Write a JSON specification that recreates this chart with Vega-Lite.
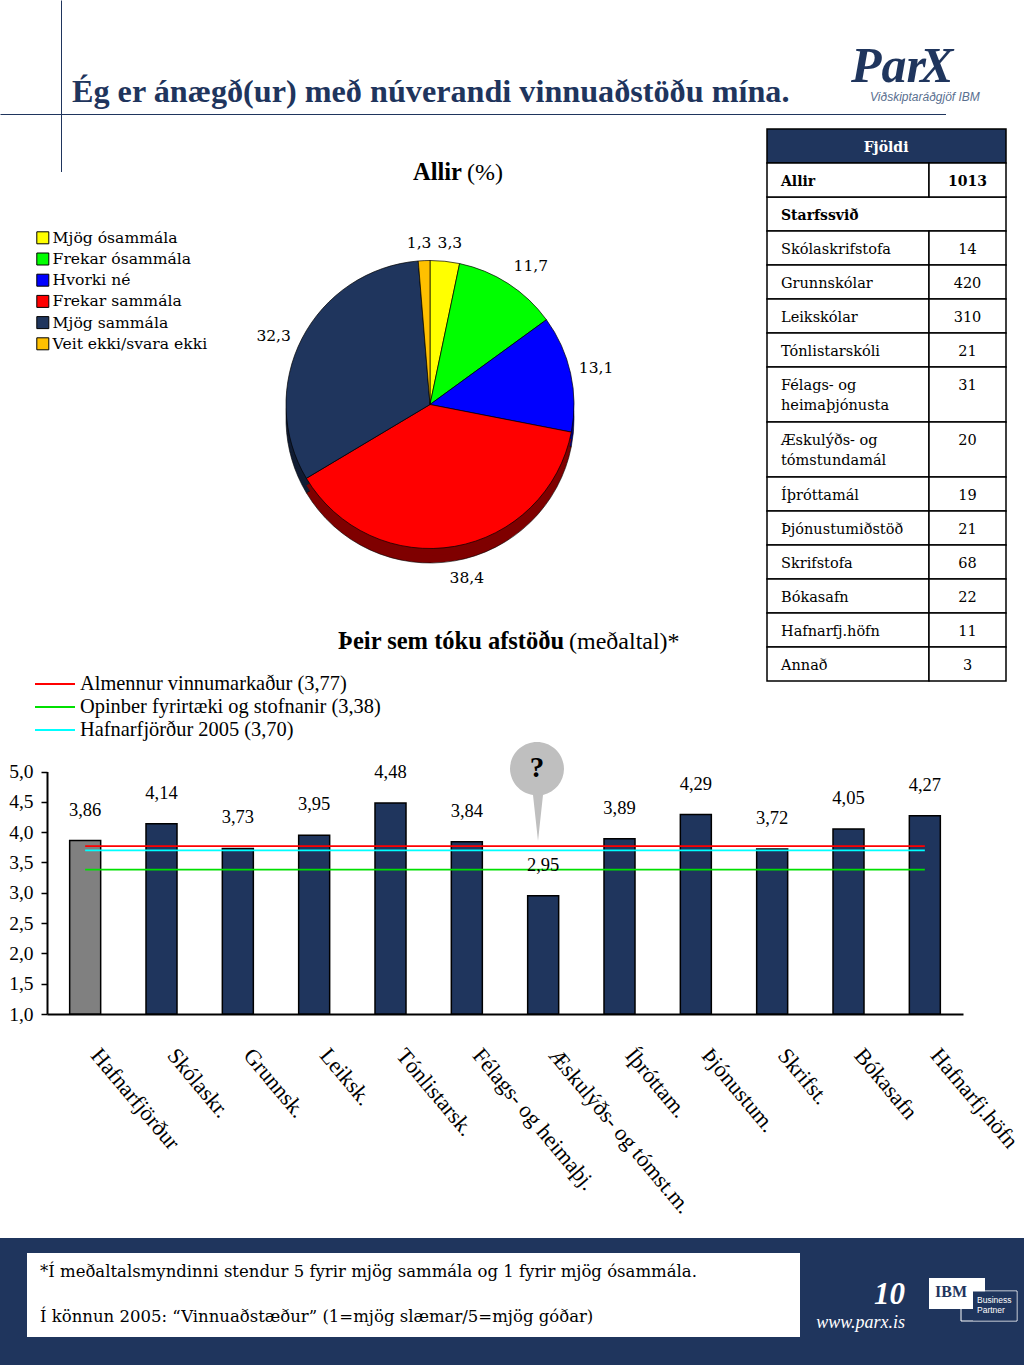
{
"$schema":"https://vega.github.io/schema/vega-lite/v6.json",
"width":1024,"height":1365,"padding":0,
"autosize":{"type":"fit","contains":"padding"},
"background":"#ffffff",
"config":{"view":{"stroke":null}},
"data":{"values":[{"part":"decor"}]},
"datasets":{
"pie":[
{"category":"Mjög ósammála","rank":1,"value":3.3,"label":"3,3"},
{"category":"Frekar ósammála","rank":2,"value":11.7,"label":"11,7"},
{"category":"Hvorki né","rank":3,"value":13.1,"label":"13,1"},
{"category":"Frekar sammála","rank":4,"value":38.4,"label":"38,4"},
{"category":"Mjög sammála","rank":5,"value":32.3,"label":"32,3"},
{"category":"Veit ekki/svara ekki","rank":6,"value":1.3,"label":"1,3"}],
"bars":[
{"category":"Hafnarfjörður","value":3.86,"label":"3,86"},
{"category":"Skólaskr.","value":4.14,"label":"4,14"},
{"category":"Grunnsk.","value":3.73,"label":"3,73"},
{"category":"Leiksk.","value":3.95,"label":"3,95"},
{"category":"Tónlistarsk.","value":4.48,"label":"4,48"},
{"category":"Félags- og heimaþj.","value":3.84,"label":"3,84"},
{"category":"Æskulýðs- og tómst.m.","value":2.95,"label":"2,95"},
{"category":"Íþróttam.","value":3.89,"label":"3,89"},
{"category":"Þjónustum.","value":4.29,"label":"4,29"},
{"category":"Skrifst.","value":3.72,"label":"3,72"},
{"category":"Bókasafn","value":4.05,"label":"4,05"},
{"category":"Hafnarfj.höfn","value":4.27,"label":"4,27"}],
"refs":[
{"series":"Almennur vinnumarkaður (3,77)","category":"Hafnarfjörður","value":3.77},
{"series":"Almennur vinnumarkaður (3,77)","category":"Hafnarfj.höfn","value":3.77},
{"series":"Opinber fyrirtæki og stofnanir (3,38)","category":"Hafnarfjörður","value":3.38},
{"series":"Opinber fyrirtæki og stofnanir (3,38)","category":"Hafnarfj.höfn","value":3.38},
{"series":"Hafnarfjörður 2005 (3,70)","category":"Hafnarfjörður","value":3.70},
{"series":"Hafnarfjörður 2005 (3,70)","category":"Hafnarfj.höfn","value":3.70}],
"refKeys":[
{"series":"Almennur vinnumarkaður (3,77)","entry":0},
{"series":"Opinber fyrirtæki og stofnanir (3,38)","entry":1},
{"series":"Hafnarfjörður 2005 (3,70)","entry":2}],
"table":[
{"row":0,"rowEnd":1,"name":"Fjöldi"},
{"row":1,"rowEnd":2,"name":"Allir","n":1013},
{"row":2,"rowEnd":3,"name":"Starfssvið"},
{"row":3,"rowEnd":4,"name":"Skólaskrifstofa","n":14},
{"row":4,"rowEnd":5,"name":"Grunnskólar","n":420},
{"row":5,"rowEnd":6,"name":"Leikskólar","n":310},
{"row":6,"rowEnd":7,"name":"Tónlistarskóli","n":21},
{"row":7,"rowEnd":8,"name":"Félags- og\nheimaþjónusta","n":31},
{"row":8,"rowEnd":9,"name":"Æskulýðs- og\ntómstundamál","n":20},
{"row":9,"rowEnd":10,"name":"Íþróttamál","n":19},
{"row":10,"rowEnd":11,"name":"Þjónustumiðstöð","n":21},
{"row":11,"rowEnd":12,"name":"Skrifstofa","n":68},
{"row":12,"rowEnd":13,"name":"Bókasafn","n":22},
{"row":13,"rowEnd":14,"name":"Hafnarfj.höfn","n":11},
{"row":14,"rowEnd":15,"name":"Annað","n":3}]
},
"resolve":{"scale":{"x":"independent","y":"independent","color":"independent","stroke":"independent","theta":"independent"}},
"layer":[
{"mark":{"type":"rule","stroke":"#1F355D","strokeWidth":1},"encoding":{
 "x":{"datum":0,"type":"quantitative","scale":{"domain":[0,1],"range":[0.5,946]},"axis":null},"x2":{"datum":1},
 "y":{"datum":0,"type":"quantitative","scale":{"domain":[0,1],"range":[114.5,115.5]},"axis":null}}},
{"mark":{"type":"rule","stroke":"#1F355D","strokeWidth":1},"encoding":{
 "x":{"datum":0,"type":"quantitative","scale":{"domain":[0,1],"range":[61.5,62.5]},"axis":null},
 "y":{"datum":0,"type":"quantitative","scale":{"domain":[0,1],"range":[0.5,172]},"axis":null},"y2":{"datum":1}}},
{"mark":{"type":"rect","fill":"#1F355D"},"encoding":{
 "x":{"datum":0,"type":"quantitative","scale":{"domain":[0,1],"range":[0,1024]},"axis":null},"x2":{"datum":1},
 "y":{"datum":0,"type":"quantitative","scale":{"domain":[0,1],"range":[1238,1365]},"axis":null},"y2":{"datum":1}}},
{"mark":{"type":"rect","fill":"#ffffff"},"encoding":{
 "x":{"datum":0,"type":"quantitative","scale":{"domain":[0,1],"range":[27,800]},"axis":null},"x2":{"datum":1},
 "y":{"datum":0,"type":"quantitative","scale":{"domain":[0,1],"range":[1253,1337]},"axis":null},"y2":{"datum":1}}},
{"mark":{"type":"rect","fill":"#1F355D","stroke":"#ffffff","strokeWidth":1},"encoding":{
 "x":{"datum":0,"type":"quantitative","scale":{"domain":[0,1],"range":[961,1017]},"axis":null},"x2":{"datum":1},
 "y":{"datum":0,"type":"quantitative","scale":{"domain":[0,1],"range":[1291,1321]},"axis":null},"y2":{"datum":1}}},
{"mark":{"type":"rect","fill":"#ffffff"},"encoding":{
 "x":{"datum":0,"type":"quantitative","scale":{"domain":[0,1],"range":[929,985]},"axis":null},"x2":{"datum":1},
 "y":{"datum":0,"type":"quantitative","scale":{"domain":[0,1],"range":[1278,1309]},"axis":null},"y2":{"datum":1}}},
{"mark":{"type":"rect","fill":"#1F355D"},"encoding":{
 "x":{"datum":0,"type":"quantitative","scale":{"domain":[0,1],"range":[973,1016.5]},"axis":null},"x2":{"datum":1},
 "y":{"datum":0,"type":"quantitative","scale":{"domain":[0,1],"range":[1291.5,1320.5]},"axis":null},"y2":{"datum":1}}},

{"data":{"values":[{"t":"Ég er ánægð(ur) með núverandi vinnuaðstöðu mína."}]},
 "mark":{"type":"text","font":"Liberation Serif","fontWeight":"bold","fontSize":32.2,"align":"left","baseline":"middle","fill":"#1F355D"},
 "encoding":{"text":{"field":"t"},
 "x":{"datum":0,"type":"quantitative","scale":{"domain":[0,1],"range":[72,73]},"axis":null},
 "y":{"datum":0,"type":"quantitative","scale":{"domain":[0,1],"range":[92,93]},"axis":null}}},
{"data":{"values":[{"t":"Par","slot":0},{"t":"X","slot":1}]},
 "mark":{"type":"text","font":"Liberation Serif","fontStyle":"italic","fontWeight":"bold","fontSize":50,"align":"left","baseline":"alphabetic","fill":"#1F355D"},
 "encoding":{"text":{"field":"t"},
 "x":{"field":"slot","type":"quantitative","scale":{"domain":[0,1],"range":[851,920]},"axis":null},
 "y":{"datum":0,"type":"quantitative","scale":{"domain":[0,1],"range":[82,83]},"axis":null}}},
{"data":{"values":[{"t":"Viðskiptaráðgjöf IBM"}]},
 "mark":{"type":"text","font":"Liberation Sans","fontStyle":"italic","fontSize":12,"align":"left","baseline":"middle","fill":"#5A6F8F"},
 "encoding":{"text":{"field":"t"},
 "x":{"datum":0,"type":"quantitative","scale":{"domain":[0,1],"range":[870,871]},"axis":null},
 "y":{"datum":0,"type":"quantitative","scale":{"domain":[0,1],"range":[97,98]},"axis":null}}},
{"data":{"values":[{"t":"Allir","slot":0},{"t":"Þeir sem tóku afstöðu","slot":1}]},
 "mark":{"type":"text","font":"Liberation Serif","fontWeight":"bold","fontSize":24.5,"align":"left","baseline":"middle","fill":"#000000"},
 "encoding":{"text":{"field":"t"},
 "x":{"field":"slot","type":"quantitative","scale":{"domain":[0,1],"range":[413,338]},"axis":null},
 "y":{"field":"slot","type":"quantitative","scale":{"domain":[0,1],"range":[173,642]},"axis":null}}},
{"data":{"values":[{"t":"(%)","slot":0},{"t":"(meðaltal)*","slot":1}]},
 "mark":{"type":"text","font":"Liberation Serif","fontSize":24,"align":"left","baseline":"middle","fill":"#000000"},
 "encoding":{"text":{"field":"t"},
 "x":{"field":"slot","type":"quantitative","scale":{"domain":[0,1],"range":[467,569]},"axis":null},
 "y":{"field":"slot","type":"quantitative","scale":{"domain":[0,1],"range":[173,642]},"axis":null}}},

{"data":{"name":"pie"},
 "mark":{"type":"arc","outerRadius":144,"stroke":"#000000","strokeWidth":0.6},
 "encoding":{
 "theta":{"field":"value","type":"quantitative","stack":true},
 "order":{"field":"rank"},
 "color":{"field":"category","type":"nominal","legend":null,"scale":{"domain":["Mjög ósammála","Frekar ósammála","Hvorki né","Frekar sammála","Mjög sammála","Veit ekki/svara ekki"],"range":["#808000","#008000","#000080","#7F0000","#101C33","#806000"]}},
 "x":{"datum":"pie","type":"nominal","scale":{"type":"point","domain":["pie"],"range":[430,430]},"axis":null},
 "y":{"datum":"pie","type":"nominal","scale":{"type":"point","domain":["pie"],"range":[419,419]},"axis":null}}},
{"data":{"name":"pie"},
 "mark":{"type":"arc","outerRadius":144},
 "encoding":{
 "theta":{"field":"value","type":"quantitative","stack":true},
 "order":{"field":"rank"},
 "color":{"field":"category","type":"nominal","legend":null,"scale":{"domain":["Mjög ósammála","Frekar ósammála","Hvorki né","Frekar sammála","Mjög sammála","Veit ekki/svara ekki"],"range":["#808000","#008000","#000080","#7F0000","#101C33","#806000"]}},
 "x":{"datum":"pie","type":"nominal","scale":{"type":"point","domain":["pie"],"range":[430,430]},"axis":null},
 "y":{"datum":"pie","type":"nominal","scale":{"type":"point","domain":["pie"],"range":[411.5,411.5]},"axis":null}}},
{"data":{"name":"pie"},
 "mark":{"type":"arc","outerRadius":144,"stroke":"#000000","strokeWidth":0.7},
 "encoding":{
 "theta":{"field":"value","type":"quantitative","stack":true},
 "order":{"field":"rank"},
 "color":{"field":"category","type":"nominal","scale":{"domain":["Mjög ósammála","Frekar ósammála","Hvorki né","Frekar sammála","Mjög sammála","Veit ekki/svara ekki"],"range":["#FFFF00","#00FF00","#0000FF","#FF0000","#1F355D","#FFC000"]},
  "legend":{"orient":"none","legendX":35,"legendY":230,"title":null,"symbolType":"square","symbolSize":144,"symbolStrokeColor":"#000000","symbolStrokeWidth":1,"labelFont":"DejaVu Serif","labelFontSize":15.6,"labelOffset":2,"labelColor":"#000000","rowPadding":3.2,"labelLimit":300}},
 "x":{"datum":"pie","type":"nominal","scale":{"type":"point","domain":["pie"],"range":[430,430]},"axis":null},
 "y":{"datum":"pie","type":"nominal","scale":{"type":"point","domain":["pie"],"range":[404.5,404.5]},"axis":null}}},
{"data":{"name":"pie"},
 "encoding":{
 "theta":{"field":"value","type":"quantitative","stack":true},
 "order":{"field":"rank"},
 "detail":{"field":"category"},
 "x":{"datum":"pie","type":"nominal","scale":{"type":"point","domain":["pie"],"range":[430,430]},"axis":null},
 "y":{"datum":"pie","type":"nominal","scale":{"type":"point","domain":["pie"],"range":[404.5,404.5]},"axis":null}},
 "layer":[
 {"mark":{"type":"text","radius":168,"dx":2.5,"dy":5.5,"font":"DejaVu Serif","fontSize":15.5,"fill":"#000000"},"encoding":{"text":{"condition":{"test":"datum.rank===1","field":"label"},"value":""}}},
 {"mark":{"type":"text","radius":168,"dx":9.5,"dy":3,"font":"DejaVu Serif","fontSize":15.5,"fill":"#000000"},"encoding":{"text":{"condition":{"test":"datum.rank===2","field":"label"},"value":""}}},
 {"mark":{"type":"text","radius":168,"dx":2,"dy":0,"font":"DejaVu Serif","fontSize":15.5,"fill":"#000000"},"encoding":{"text":{"condition":{"test":"datum.rank===3","field":"label"},"value":""}}},
 {"mark":{"type":"text","radius":168,"dx":8,"dy":8,"font":"DejaVu Serif","fontSize":15.5,"fill":"#000000"},"encoding":{"text":{"condition":{"test":"datum.rank===4","field":"label"},"value":""}}},
 {"mark":{"type":"text","radius":168,"dx":-7,"dy":8,"font":"DejaVu Serif","fontSize":15.5,"fill":"#000000"},"encoding":{"text":{"condition":{"test":"datum.rank===5","field":"label"},"value":""}}},
 {"mark":{"type":"text","radius":168,"dx":-4,"dy":6,"font":"DejaVu Serif","fontSize":15.5,"fill":"#000000"},"encoding":{"text":{"condition":{"test":"datum.rank===6","field":"label"},"value":""}}}
 ]},

{"data":{"name":"bars"},
 "encoding":{
 "x":{"field":"category","type":"nominal","sort":null,
  "scale":{"type":"band","domain":["Hafnarfjörður","Skólaskr.","Grunnsk.","Leiksk.","Tónlistarsk.","Félags- og heimaþj.","Æskulýðs- og tómst.m.","Íþróttam.","Þjónustum.","Skrifst.","Bókasafn","Hafnarfj.höfn"],"range":[47,963],"padding":0},
  "axis":{"title":null,"orient":"bottom","offset":-351,"tickSize":0,"domainColor":"#000000","domainWidth":2,"labelAngle":50,"labelAlign":"left","labelBaseline":"middle","labelPadding":37,"labelOffset":10,"labelFont":"Liberation Serif","labelFontSize":22.4,"labelColor":"#000000","labelOverlap":false,"labelLimit":400}},
 "y":{"field":"value","type":"quantitative",
  "scale":{"domain":[1,5],"range":[1014,771.5]},
  "axis":{"title":null,"orient":"left","offset":-47,"values":[1,1.5,2,2.5,3,3.5,4,4.5,5],"labelExpr":"replace(format(datum.value,'.1f'),'.',',')","grid":false,"tickSize":6,"tickColor":"#000000","tickWidth":1.5,"domainColor":"#000000","domainWidth":2,"labelPadding":8,"labelFont":"Liberation Serif","labelFontSize":19.5,"labelColor":"#000000"}}},
 "layer":[
 {"mark":{"type":"bar","width":31,"stroke":"#000000","strokeWidth":1.5,"fill":"#1F355D"},
  "encoding":{"y2":{"datum":1},
  "fill":{"condition":{"test":"datum.category==='Hafnarfjörður'","value":"#808080"},"value":"#1F355D"}}},
 {"data":{"name":"refs"},"mark":{"type":"line","strokeWidth":1.8},
  "encoding":{"stroke":{"field":"series","type":"nominal","sort":null,"legend":null,
   "scale":{"domain":["Almennur vinnumarkaður (3,77)","Opinber fyrirtæki og stofnanir (3,38)","Hafnarfjörður 2005 (3,70)"],"range":["#FF0000","#00E000","#00FFFF"]}}}},
 {"mark":{"type":"text","dy":-31,"font":"Liberation Serif","fontSize":18.5,"fill":"#000000"},
  "encoding":{"text":{"field":"label"}}}
 ]},

{"data":{"name":"refKeys"},
 "mark":{"type":"rule","strokeWidth":1.8},
 "encoding":{
 "x":{"datum":0,"type":"quantitative","scale":{"domain":[0,1],"range":[35,75]},"axis":null},"x2":{"datum":1},
 "y":{"field":"entry","type":"quantitative","scale":{"domain":[0,2],"range":[684,730]},"axis":null},
 "stroke":{"field":"series","type":"nominal","sort":null,"legend":null,
   "scale":{"domain":["Almennur vinnumarkaður (3,77)","Opinber fyrirtæki og stofnanir (3,38)","Hafnarfjörður 2005 (3,70)"],"range":["#FF0000","#00E000","#00FFFF"]}}}},
{"data":{"name":"refKeys"},
 "mark":{"type":"text","align":"left","baseline":"middle","font":"Liberation Serif","fontSize":20.4,"fill":"#000000"},
 "encoding":{"text":{"field":"series"},
 "x":{"datum":0,"type":"quantitative","scale":{"domain":[0,1],"range":[80,81]},"axis":null},
 "y":{"field":"entry","type":"quantitative","scale":{"domain":[0,2],"range":[684,730]},"axis":null}}},

{"data":{"name":"table"},
 "encoding":{"y":{"field":"row","type":"quantitative",
  "scale":{"domain":[0,1,2,3,4,5,6,7,8,9,10,11,12,13,14,15],"range":[129,163,197,231,265,299,333,367,422,477,511,545,579,613,647,681]},"axis":null}},
 "layer":[
 {"transform":[{"filter":"datum.row===0||datum.row===2"}],
  "mark":{"type":"rect","stroke":"#000000","strokeWidth":1.5},
  "encoding":{"x":{"datum":0,"type":"quantitative","scale":{"domain":[0,1,2],"range":[767,929,1006]},"axis":null},"x2":{"datum":2},"y2":{"field":"rowEnd"},
  "fill":{"condition":{"test":"datum.row===0","value":"#1F355D"},"value":"#ffffff"}}},
 {"transform":[{"filter":"datum.row!==0&&datum.row!==2"}],
  "mark":{"type":"rect","stroke":"#000000","strokeWidth":1.5,"fill":"#ffffff"},
  "encoding":{"x":{"datum":0,"type":"quantitative","scale":{"domain":[0,1,2],"range":[767,929,1006]},"axis":null},"x2":{"datum":1},"y2":{"field":"rowEnd"}}},
 {"transform":[{"filter":"datum.row!==0&&datum.row!==2"}],
  "mark":{"type":"rect","stroke":"#000000","strokeWidth":1.5,"fill":"#ffffff"},
  "encoding":{"x":{"datum":1,"type":"quantitative","scale":{"domain":[0,1,2],"range":[767,929,1006]},"axis":null},"x2":{"datum":2},"y2":{"field":"rowEnd"}}},
 {"transform":[{"filter":"datum.row===0"}],
  "mark":{"type":"text","align":"center","baseline":"top","dy":12,"font":"DejaVu Serif","fontWeight":"bold","fontSize":14,"fill":"#ffffff"},
  "encoding":{"x":{"datum":0.735,"type":"quantitative","scale":{"domain":[0,1,2],"range":[767,929,1006]},"axis":null},"text":{"field":"name"}}},
 {"transform":[{"filter":"datum.row===1||datum.row===2"}],
  "mark":{"type":"text","align":"left","baseline":"top","dx":14,"dy":12,"font":"DejaVu Serif","fontWeight":"bold","fontSize":14,"fill":"#000000"},
  "encoding":{"x":{"datum":0,"type":"quantitative","scale":{"domain":[0,1,2],"range":[767,929,1006]},"axis":null},"text":{"field":"name"}}},
 {"transform":[{"filter":"datum.row>2"}],
  "mark":{"type":"text","align":"left","baseline":"top","dx":14,"dy":12,"lineBreak":"\n","lineHeight":20,"font":"DejaVu Serif","fontSize":14.5,"fill":"#000000"},
  "encoding":{"x":{"datum":0,"type":"quantitative","scale":{"domain":[0,1,2],"range":[767,929,1006]},"axis":null},"text":{"field":"name"}}},
 {"transform":[{"filter":"datum.row===1"}],
  "mark":{"type":"text","align":"center","baseline":"top","dy":12,"font":"DejaVu Serif","fontWeight":"bold","fontSize":14,"fill":"#000000"},
  "encoding":{"x":{"datum":1.5,"type":"quantitative","scale":{"domain":[0,1,2],"range":[767,929,1006]},"axis":null},"text":{"field":"n","type":"nominal"}}},
 {"transform":[{"filter":"datum.row>2"}],
  "mark":{"type":"text","align":"center","baseline":"top","dy":12,"font":"DejaVu Serif","fontSize":14.5,"fill":"#000000"},
  "encoding":{"x":{"datum":1.5,"type":"quantitative","scale":{"domain":[0,1,2],"range":[767,929,1006]},"axis":null},"text":{"field":"n","type":"nominal"}}}
 ]},

{"mark":{"type":"point","filled":true,"opacity":1,"fill":"#BFBFBF","strokeWidth":0,"size":4,"shape":"M-27,0 A27,27 0 1 1 27,0 A27,27 0 0 1 6,26 L1,72 L-4,26 A27,27 0 0 1 -27,0 Z"},
 "encoding":{
 "x":{"datum":0,"type":"quantitative","scale":{"domain":[0,1],"range":[537,538]},"axis":null},
 "y":{"datum":0,"type":"quantitative","scale":{"domain":[0,1],"range":[769,770]},"axis":null}}},
{"data":{"values":[{"t":"?"}]},
 "mark":{"type":"text","font":"Liberation Serif","fontWeight":"bold","fontSize":29,"align":"center","baseline":"middle","fill":"#000000"},
 "encoding":{"text":{"field":"t"},
 "x":{"datum":0,"type":"quantitative","scale":{"domain":[0,1],"range":[537,538]},"axis":null},
 "y":{"datum":0,"type":"quantitative","scale":{"domain":[0,1],"range":[768,769]},"axis":null}}},

{"data":{"values":[{"t":"*Í meðaltalsmyndinni stendur 5 fyrir mjög sammála og 1 fyrir mjög ósammála.","slot":0},{"t":"Í könnun 2005: “Vinnuaðstæður”  (1=mjög slæmar/5=mjög góðar)","slot":1}]},
 "mark":{"type":"text","font":"DejaVu Serif","fontSize":16.5,"align":"left","baseline":"middle","fill":"#000000"},
 "encoding":{"text":{"field":"t"},
 "x":{"datum":0,"type":"quantitative","scale":{"domain":[0,1],"range":[40,41]},"axis":null},
 "y":{"field":"slot","type":"quantitative","scale":{"domain":[0,1],"range":[1272,1317]},"axis":null}}},
{"data":{"values":[{"t":"10"}]},
 "mark":{"type":"text","font":"Liberation Serif","fontStyle":"italic","fontWeight":"bold","fontSize":31,"align":"right","baseline":"middle","fill":"#ffffff"},
 "encoding":{"text":{"field":"t"},
 "x":{"datum":0,"type":"quantitative","scale":{"domain":[0,1],"range":[905,906]},"axis":null},
 "y":{"datum":0,"type":"quantitative","scale":{"domain":[0,1],"range":[1295,1296]},"axis":null}}},
{"data":{"values":[{"t":"www.parx.is"}]},
 "mark":{"type":"text","font":"Liberation Serif","fontStyle":"italic","fontSize":18,"align":"right","baseline":"middle","fill":"#ffffff"},
 "encoding":{"text":{"field":"t"},
 "x":{"datum":0,"type":"quantitative","scale":{"domain":[0,1],"range":[905,906]},"axis":null},
 "y":{"datum":0,"type":"quantitative","scale":{"domain":[0,1],"range":[1323,1324]},"axis":null}}},
{"data":{"values":[{"t":"IBM"}]},
 "mark":{"type":"text","font":"Liberation Serif","fontWeight":"bold","fontSize":16,"align":"left","baseline":"middle","fill":"#1F355D"},
 "encoding":{"text":{"field":"t"},
 "x":{"datum":0,"type":"quantitative","scale":{"domain":[0,1],"range":[935,936]},"axis":null},
 "y":{"datum":0,"type":"quantitative","scale":{"domain":[0,1],"range":[1292,1293]},"axis":null}}},
{"data":{"values":[{"t":"Business","slot":0},{"t":"Partner","slot":1}]},
 "mark":{"type":"text","font":"Liberation Sans","fontSize":8.5,"align":"left","baseline":"middle","fill":"#ffffff"},
 "encoding":{"text":{"field":"t"},
 "x":{"datum":0,"type":"quantitative","scale":{"domain":[0,1],"range":[977,978]},"axis":null},
 "y":{"field":"slot","type":"quantitative","scale":{"domain":[0,1],"range":[1300,1310]},"axis":null}}}
]
}
